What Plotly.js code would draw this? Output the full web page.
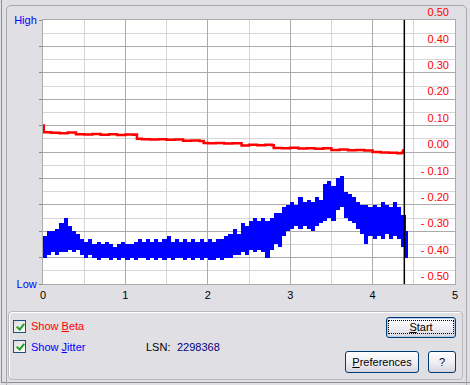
<!DOCTYPE html>
<html><head><meta charset="utf-8">
<script src="https://cdn.plot.ly/plotly-3.0.1.min.js"></script>
<style>
html,body{margin:0;padding:0;background:#E0DFE3;}
#wrap{position:relative;width:470px;height:385px;overflow:hidden;background:#E0DFE3;font-family:"Liberation Sans",Arial,sans-serif;font-size:11px;}
#edge{position:absolute;left:1px;top:0;width:1px;height:383px;background:#8F8E94;}
#edgeb{position:absolute;left:1px;top:382px;width:470px;height:1px;background:#8F8E94;}
#panel{position:absolute;left:6px;top:5px;width:461px;height:382px;border:1px solid #A9A8AE;border-radius:5px 5px 0 0;box-sizing:border-box;}
#chart{position:absolute;left:0;top:0;width:470px;height:385px;}
#group{position:absolute;left:8px;top:311px;width:455px;height:69px;border:1px solid #B9B8BE;border-radius:4px;box-sizing:border-box;box-shadow:inset 1px 1px 0 #fff;}
.cb{position:absolute;width:13px;height:13px;border:1px solid #1C5180;box-sizing:border-box;background:linear-gradient(135deg,#DCDCD7,#FFFFFF);}
.cb i{position:absolute;left:4px;top:1px;width:3px;height:6px;border-right:2px solid #21A121;border-bottom:2px solid #21A121;transform:rotate(40deg);}
.lbl{position:absolute;white-space:nowrap;line-height:13px;}
.btn{position:absolute;box-sizing:border-box;border:1px solid #003C74;border-radius:3px;background:linear-gradient(#FFFFFF,#ECEBF0 60%,#D6D5DE);text-align:center;color:#000;}
.btn u{text-decoration:underline;}
</style></head>
<body>
<div id="wrap">
  <div id="edge"></div><div id="edgeb"></div>
  <div id="panel"></div>
  <div id="group"></div>
  <div id="chart"></div>
  <div class="cb" style="left:13px;top:320px;"><i></i></div>
  <div class="lbl" style="left:31px;top:320px;color:#FF0000;">Show <u>B</u>eta</div>
  <div class="cb" style="left:13px;top:340px;"><i></i></div>
  <div class="lbl" style="left:31px;top:341px;color:#0000FF;">Show <u>J</u>itter</div>
  <div class="lbl" style="left:146px;top:341px;color:#000;">LSN:</div>
  <div class="lbl" id="lsn" style="left:177px;top:341px;color:#000080;"></div>
  <div class="btn" style="left:386px;top:317px;width:70px;height:21px;line-height:17px;box-shadow:inset 0 0 0 1px #B8CCF0;"><span style="display:inline-block;border:1px dotted #000;padding:0 20px;line-height:12px;margin-top:2px;"><u>S</u>tart</span></div>
  <div class="btn" style="left:345px;top:351px;width:74px;height:22px;line-height:20px;"><u>P</u>references</div>
  <div class="btn" style="left:428px;top:351px;width:28px;height:22px;line-height:20px;">?</div>
</div>
<script>
// ---- data ----
var xTickVals = [0, 1, 2, 3, 4, 5];
var rightTickVals = [0.5, 0.4, 0.3, 0.2, 0.1, 0.0, -0.1, -0.2, -0.3, -0.4, -0.5];
var rightTickText = ["0.50", "0.40", "0.30", "0.20", "0.10", "0.00", "- 0.10", "- 0.20", "- 0.30", "- 0.40", "- 0.50"];
var leftTickText = ["High", "", "", "", "", "", "", "", "", "", "Low"];
var currentPos = 4.385;
var lsnValue = "2298368";

var betaX = [0, 0.01, 0.1, 0.2, 0.3, 0.4, 0.5, 0.6, 0.7, 0.8, 0.9, 1.0, 1.1, 1.13, 1.14, 1.2, 1.3, 1.4, 1.5, 1.6,
             1.7, 1.8, 1.9, 1.95, 2.0, 2.1, 2.2, 2.3, 2.39, 2.41, 2.5, 2.6, 2.7, 2.78, 2.8, 2.9, 3.0, 3.1, 3.2, 3.3,
             3.4, 3.5, 3.6, 3.7, 3.8, 3.9, 4.0, 4.1, 4.2, 4.3, 4.35, 4.37];
var betaY = [0.100, 0.075, 0.073, 0.071, 0.074, 0.067, 0.066, 0.068, 0.065, 0.067, 0.064, 0.066, 0.065, 0.066, 0.050, 0.048, 0.047, 0.048, 0.046, 0.047,
             0.043, 0.044, 0.042, 0.034, 0.033, 0.034, 0.032, 0.033, 0.033, 0.025, 0.027, 0.026, 0.027, 0.026, 0.015, 0.014, 0.016, 0.013, 0.014, 0.012,
             0.014, 0.008, 0.009, 0.007, 0.008, 0.006, 0.000, -0.002, -0.003, -0.005, -0.003, 0.010];

var jitterX = [0.00, 0.05, 0.10, 0.15, 0.20, 0.25, 0.30, 0.35, 0.40, 0.45, 0.50, 0.55, 0.60, 0.65, 0.70, 0.75, 0.80, 0.85, 0.90, 0.95,
               1.00, 1.05, 1.10, 1.15, 1.20, 1.25, 1.30, 1.35, 1.40, 1.45, 1.50, 1.55, 1.60, 1.65, 1.70, 1.75, 1.80, 1.85, 1.90, 1.95,
               2.00, 2.05, 2.10, 2.15, 2.20, 2.25, 2.30, 2.35, 2.40, 2.45, 2.50, 2.55, 2.60, 2.65, 2.70, 2.75, 2.80, 2.85, 2.90, 2.95,
               3.00, 3.05, 3.10, 3.15, 3.20, 3.25, 3.30, 3.35, 3.40, 3.45, 3.50, 3.55, 3.60, 3.65, 3.70, 3.75, 3.80, 3.85, 3.90, 3.95,
               4.00, 4.05, 4.10, 4.15, 4.20, 4.25, 4.30, 4.35, 4.38];
var jitterHigh = [-0.32, -0.30, -0.30, -0.29, -0.27, -0.25, -0.28, -0.30, -0.31, -0.33, -0.34, -0.33, -0.35, -0.34, -0.35, -0.34, -0.35, -0.36, -0.35, -0.34,
                  -0.35, -0.35, -0.34, -0.33, -0.34, -0.33, -0.34, -0.33, -0.34, -0.33, -0.32, -0.34, -0.33, -0.34, -0.33, -0.34, -0.33, -0.34, -0.33, -0.34,
                  -0.33, -0.34, -0.33, -0.33, -0.32, -0.31, -0.29, -0.31, -0.27, -0.28, -0.26, -0.25, -0.26, -0.25, -0.26, -0.25, -0.23, -0.23, -0.21, -0.20,
                  -0.19, -0.20, -0.17, -0.19, -0.18, -0.19, -0.17, -0.18, -0.12, -0.11, -0.13, -0.10, -0.09, -0.15, -0.16, -0.17, -0.19, -0.20, -0.20, -0.21,
                  -0.20, -0.21, -0.19, -0.20, -0.21, -0.19, -0.21, -0.24, -0.30];
var jitterLow = [-0.40, -0.39, -0.38, -0.39, -0.38, -0.38, -0.37, -0.38, -0.37, -0.39, -0.40, -0.39, -0.40, -0.41, -0.40, -0.40, -0.41, -0.40, -0.41, -0.40,
                 -0.41, -0.40, -0.41, -0.40, -0.40, -0.41, -0.40, -0.41, -0.40, -0.41, -0.40, -0.41, -0.40, -0.40, -0.41, -0.40, -0.41, -0.40, -0.41, -0.40,
                 -0.41, -0.41, -0.40, -0.41, -0.40, -0.40, -0.39, -0.39, -0.38, -0.39, -0.37, -0.38, -0.37, -0.38, -0.40, -0.37, -0.35, -0.36, -0.32, -0.30,
                 -0.29, -0.28, -0.29, -0.28, -0.29, -0.30, -0.28, -0.27, -0.26, -0.25, -0.26, -0.22, -0.21, -0.25, -0.26, -0.27, -0.29, -0.31, -0.35, -0.32,
                 -0.33, -0.32, -0.33, -0.31, -0.33, -0.32, -0.33, -0.36, -0.40];

document.getElementById('lsn').textContent = lsnValue;

// jitter drawn as columns spanning the low..high envelope at each sample
var jitterSpan = jitterHigh.map(function (h, k) { return h - jitterLow[k]; });

var majorY = rightTickVals;
var minorY = [];
for (var i = 0; i < majorY.length - 1; i++) minorY.push((majorY[i] + majorY[i + 1]) / 2);
var minorX = [];
for (var j = 0; j < xTickVals.length - 1; j++) minorX.push((xTickVals[j] + xTickVals[j + 1]) / 2);

var FONT = '"Liberation Sans", Arial, sans-serif';
var traces = [
  {x: jitterX, y: jitterSpan, base: jitterLow, type: 'bar', width: 0.05, offset: 0,
   marker: {color: '#0000FF', line: {width: 0}}, hoverinfo: 'skip', showlegend: false},
  {x: betaX, y: betaY, type: 'scatter', mode: 'lines', line: {color: '#FF0000', width: 2.5, shape: 'hv'},
   hoverinfo: 'skip', showlegend: false},
  {x: [0], y: [0], yaxis: 'y2', type: 'scatter', mode: 'markers', marker: {opacity: 0}, hoverinfo: 'skip', showlegend: false}
];

var layout = {
  width: 470, height: 385,
  margin: {l: 43, r: 15, t: 20, b: 101, pad: 0},
  paper_bgcolor: 'rgba(0,0,0,0)', plot_bgcolor: '#FFFFFF',
  font: {family: FONT, size: 11, color: '#000'},
  showlegend: false, bargap: 0,
  xaxis: {
    range: [0, 5], tickmode: 'array', tickvals: xTickVals, ticktext: xTickVals.map(String),
    showgrid: true, gridcolor: '#ABABAB', gridwidth: 1, zeroline: false,
    showline: true, mirror: true, linecolor: '#ABABAB', linewidth: 1,
    ticks: 'outside', ticklen: 1, tickcolor: 'rgba(0,0,0,0)',
    tickfont: {family: FONT, size: 11, color: '#000'},
    minor: {tickmode: 'array', tickvals: minorX, showgrid: true, gridcolor: '#D6D6D6', gridwidth: 1, ticks: ''},
    fixedrange: true
  },
  yaxis: {
    range: [-0.5, 0.5], tickmode: 'array', tickvals: rightTickVals, ticktext: leftTickText,
    showgrid: true, gridcolor: '#ABABAB', gridwidth: 1, zeroline: false,
    showline: true, mirror: true, linecolor: '#ABABAB', linewidth: 1,
    ticks: 'outside', ticklen: 3, tickcolor: '#8A8A8A',
    tickfont: {family: FONT, size: 11, color: '#0000FF'},
    minor: {tickmode: 'array', tickvals: minorY, showgrid: true, gridcolor: '#D6D6D6', gridwidth: 1, ticks: ''},
    fixedrange: true
  },
  yaxis2: {
    overlaying: 'y', side: 'right', anchor: 'free', position: 1, range: [-0.5, 0.5],
    tickmode: 'array', tickvals: rightTickVals, ticktext: rightTickText,
    showgrid: false, zeroline: false, showline: false, ticks: '',
    ticklabelposition: 'inside top', ticklabeloverflow: 'allow', ticklabelstandoff: 3,
    tickfont: {family: FONT, size: 11, color: '#FF0000'},
    fixedrange: true
  },
  shapes: [
    {type: 'line', xref: 'x', yref: 'paper', x0: currentPos, x1: currentPos, y0: 0, y1: 1,
     line: {color: '#000000', width: 1.5}}
  ]
};

Plotly.newPlot('chart', traces, layout, {displayModeBar: false, staticPlot: true});
</script>
</body></html>
